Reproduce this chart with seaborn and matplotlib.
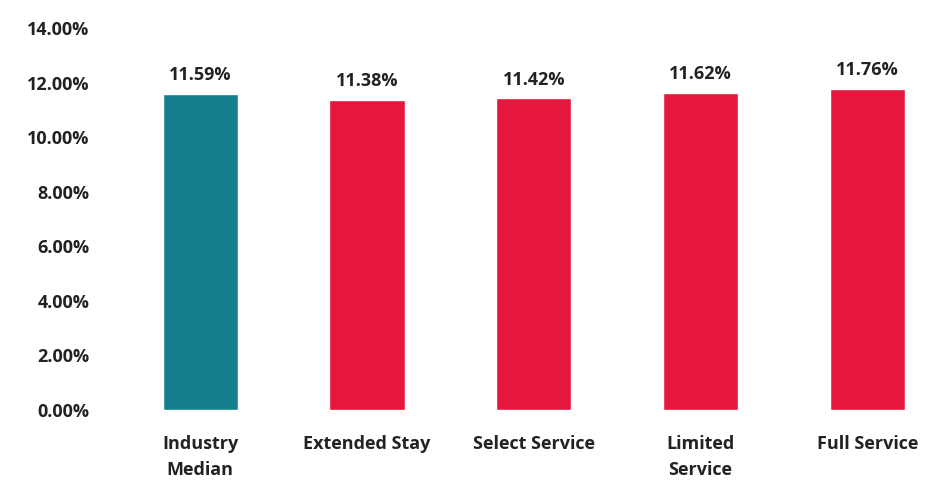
import pandas as pd
import matplotlib.pyplot as plt
import seaborn as sns

categories = ["Industry\nMedian", "Extended Stay", "Select Service", "Limited\nService", "Full Service"]
values = [11.59, 11.38, 11.42, 11.62, 11.76]
bar_colors = ["#177e8e", "#e6173f", "#e6173f", "#e6173f", "#e6173f"]
y_ticks = [0, 2, 4, 6, 8, 10, 12, 14]

df = pd.DataFrame({"segment": categories, "rate": values})

sns.set_theme(style="white")
plt.rcParams['font.family'] = ['Open Sans', 'DejaVu Sans']

fig = plt.figure(figsize=(9.39, 4.83), dpi=100)
ax = fig.add_axes([0.128, 0.151, 0.872, 0.791])

sns.barplot(data=df, x="segment", y="rate", hue="segment", palette=bar_colors,
            legend=False, width=0.45, ax=ax, saturation=1)

for c in ax.containers:
    ax.bar_label(c, labels=[f"{v:.2f}%" for v in c.datavalues], padding=7,
                 fontsize=13, fontweight='bold', color='#222222')

ax.set_ylim(0, 14)
ax.set_xlim(-0.48, 4.43)
ax.set_yticks(y_ticks)
ax.set_yticklabels([f"{t:.2f}%" for t in y_ticks], fontsize=13, fontweight='bold', color='#222222')
ax.set_xticks(range(len(categories)))
ax.set_xticklabels(categories, fontsize=13, fontweight='bold', color='#222222', linespacing=1.55)
ax.tick_params(axis='y', pad=22, length=0)
ax.tick_params(axis='x', pad=18, length=0)
ax.set_xlabel("")
ax.set_ylabel("")
sns.despine(left=True, bottom=True)

plt.savefig("out.png", dpi=100)
